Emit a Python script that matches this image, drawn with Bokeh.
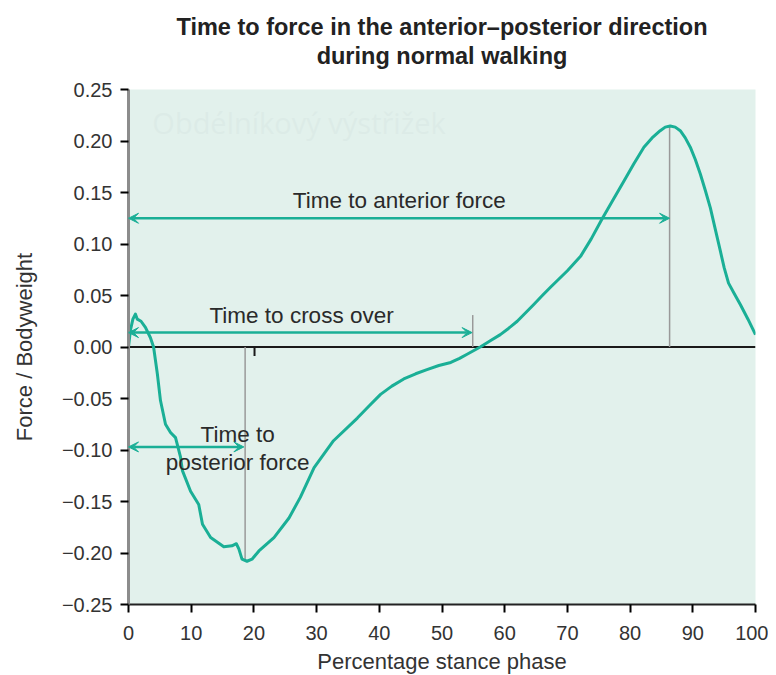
from bokeh.plotting import figure
from bokeh.models import (Range1d, FixedTicker, CustomJSTickFormatter, Title, Arrow,
                          VeeHead, ColumnDataSource)
from bokeh.core.properties import value
from bokeh.embed import file_html
from bokeh.resources import INLINE

# ---- data ----
stance_pct = [0, 0.3, 0.7, 1.1, 1.4, 2.0, 2.7, 3.5, 4.0, 4.6, 5.1, 5.9, 6.7, 7.5, 8.3, 8.6,
              9.9, 11.2, 11.8, 13.1, 15.2, 16.5, 17.2, 17.6, 18.1, 18.9, 19.7, 20.8, 23.2,
              25.6, 27.4, 29.6, 32.7, 36.5, 38.4, 40.2, 42.0, 43.9, 45.8, 47.6, 49.5, 51.4,
              52.8, 54.0, 56.1, 57.7, 59.3, 60.6, 62.0, 64.6, 66.0, 67.3, 70.0, 72.1, 73.8,
              75.5, 77.2, 79.0, 80.6, 82.2, 83.5, 84.8, 85.6, 86.4, 87.2, 88.0, 88.8, 89.6,
              90.4, 91.2, 92.0, 92.8, 93.6, 94.4, 95.0, 95.7, 96.6, 97.6, 98.8, 100]
force_bw = [0, 0.016, 0.027, 0.032, 0.027, 0.025, 0.019, 0.009, 0.0, -0.026, -0.052, -0.075,
            -0.083, -0.088, -0.107, -0.12, -0.14, -0.153, -0.172, -0.185, -0.194, -0.193,
            -0.191, -0.196, -0.206, -0.208, -0.206, -0.198, -0.185, -0.166, -0.146, -0.117,
            -0.091, -0.069, -0.057, -0.046, -0.038, -0.031, -0.026, -0.022, -0.018, -0.015,
            -0.011, -0.007, 0.0, 0.006, 0.012, 0.018, 0.025, 0.041, 0.050, 0.058, 0.074,
            0.088, 0.105, 0.124, 0.142, 0.161, 0.178, 0.194, 0.203, 0.210, 0.2135, 0.2146,
            0.2135, 0.21, 0.203, 0.194, 0.182, 0.168, 0.152, 0.135, 0.114, 0.093, 0.077,
            0.062, 0.052, 0.041, 0.027, 0.012]

x_ticks = [0, 10, 20, 30, 40, 50, 60, 70, 80, 90, 100]
y_ticks = [-0.25, -0.20, -0.15, -0.10, -0.05, 0.0, 0.05, 0.10, 0.15, 0.20, 0.25]

title_lines = ["Time to force in the anterior\u2013posterior direction", "during normal walking"]

arrow_labels = ["Time to anterior force", "Time to cross over"]
arrow_label_x = [43.2, 27.6]
arrow_label_y = [0.142, 0.031]
posterior_lines = ["Time to", "posterior force"]
posterior_x = [17.4, 17.4]
posterior_y = [-0.085, -0.112]

arrow_start = [0, 0, 0]
arrow_end = [86.3, 54.8, 18.4]
arrow_y = [0.125, 0.014, -0.097]

marker_x = [86.3, 54.9, 18.6]
marker_top = [0.2146, 0.031, -0.206]

TEAL = "#1aaf96"
FONT = "Liberation Sans"

p = figure(frame_width=627, frame_height=515, output_backend="svg", toolbar_location=None,
           title=None, x_range=Range1d(0, 100), y_range=Range1d(-0.25, 0.25),
           min_border_left=128, min_border_right=13, min_border_top=89, min_border_bottom=70)
p.background_fill_color = "#e2f1ec"
p.border_fill_color = "white"
p.outline_line_color = None
p.xgrid.visible = False
p.ygrid.visible = False

# spacer between frame and title block
p.add_layout(Title(text=" ", text_font_size="1px", standoff=16), "above")
# titles: second line added first (closer to the plot)
p.add_layout(Title(text=title_lines[1], align="center", text_font=FONT,
                   text_font_size="23.5px", text_font_style="bold", text_color="#222222",
                   standoff=3), "above")
p.add_layout(Title(text=title_lines[0], align="center", text_font=FONT,
                   text_font_size="23.5px", text_font_style="bold", text_color="#222222",
                   standoff=0), "above")

# axes
p.xaxis.ticker = FixedTicker(ticks=x_ticks)
p.yaxis.ticker = FixedTicker(ticks=y_ticks)
p.yaxis.formatter = CustomJSTickFormatter(
    code="return (tick < -1e-9 ? '\u2212' : '') + Math.abs(tick).toFixed(2);")
p.xaxis.axis_label = "Percentage stance phase"
p.yaxis.axis_label = "Force / Bodyweight"
for ax in (p.xaxis[0], p.yaxis[0]):
    ax.axis_label_text_font = FONT
    ax.axis_label_text_font_size = "22px"
    ax.axis_label_text_font_style = "normal"
    ax.axis_label_text_color = "#333333"
    ax.major_label_text_font = FONT
    ax.major_label_text_font_size = "20px"
    ax.major_label_text_color = "#333333"
    ax.major_tick_line_color = "black"
    ax.major_tick_line_width = 2
    ax.major_tick_out = 8
    ax.major_tick_in = 0
    ax.minor_tick_line_color = None
p.xaxis.axis_line_color = "#222222"
p.xaxis.axis_line_width = 2
p.yaxis.axis_line_color = "#8c8c8c"
p.yaxis.axis_line_width = 3
p.xaxis.major_label_standoff = 13
p.xaxis.axis_label_standoff = 6
p.yaxis.major_label_standoff = 8
p.yaxis.axis_label_standoff = 22

# faint watermark text
p.text(x=[3.8], y=[0.2175], text=["Obd\u00e9ln\u00edkov\u00fd v\u00fdst\u0159i\u017eek"],
       text_font=value("Open Sans"), text_font_size="29px", text_color="#d6e5e1",
       text_alpha=0.45, text_baseline="middle", text_align="left")

# zero line and small tick
p.segment(x0=[0], y0=[0], x1=[100], y1=[0], line_color="#1a1a1a", line_width=2)
p.segment(x0=[20.1], y0=[0], x1=[20.1], y1=[-0.0087], line_color="#1a1a1a", line_width=2)

# grey marker lines
p.segment(x0=marker_x, y0=[0, 0, 0], x1=marker_x, y1=marker_top, line_color="#999999",
          line_width=1.5)

# curve
p.line(stance_pct, force_bw, line_color=TEAL, line_width=3, line_join="round")

# arrows
asrc = ColumnDataSource(dict(x0=arrow_start, x1=arrow_end, y=arrow_y))
p.add_layout(Arrow(source=asrc, x_start="x0", x_end="x1", y_start="y", y_end="y",
                   line_color=TEAL, line_width=2.5,
                   start=VeeHead(size=10, fill_color=TEAL, line_color=TEAL, line_width=1),
                   end=VeeHead(size=10, fill_color=TEAL, line_color=TEAL, line_width=1)))

# annotation texts
p.text(x=arrow_label_x, y=arrow_label_y, text=arrow_labels, text_font=value(FONT),
       text_font_size="22.5px", text_color="#2a2a2a", text_align="center",
       text_baseline="middle")
p.text(x=posterior_x, y=posterior_y, text=posterior_lines, text_font=value(FONT),
       text_font_size="22.5px", text_color="#2a2a2a", text_align="center",
       text_baseline="middle")

open("out.html", "w").write(file_html(p, INLINE))
